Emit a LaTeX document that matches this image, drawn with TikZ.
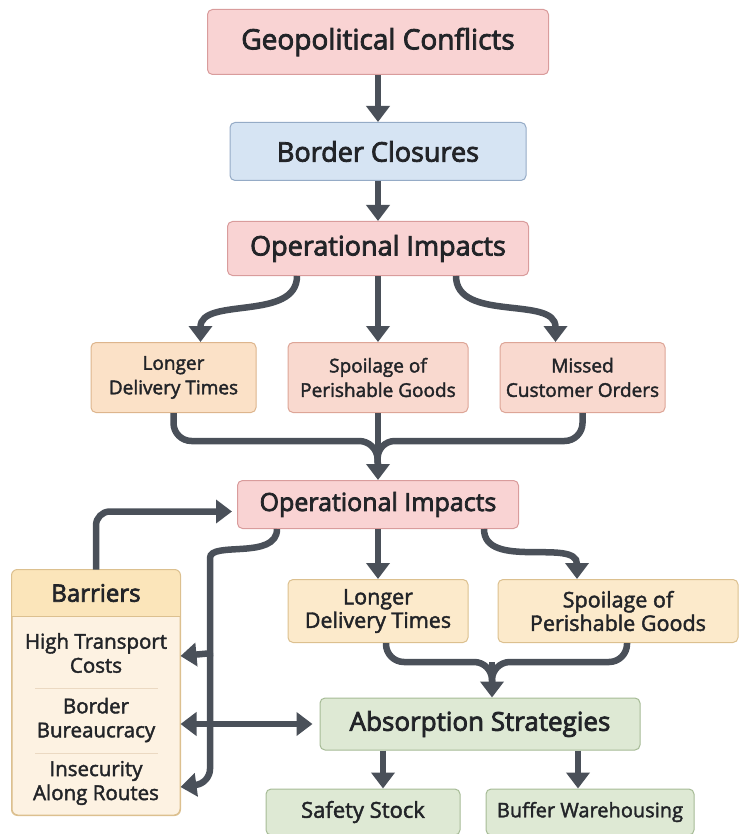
\documentclass[tikz,border=0pt]{standalone}
\usepackage{fontspec}
\setmainfont{Open Sans}[FakeBold=2]
\newfontfamily\headfont{Open Sans}[FakeBold=3]
\usepackage{xcolor}
\usetikzlibrary{arrows.meta,positioning}

\definecolor{linegray}{HTML}{4A5059}
\definecolor{textgray}{HTML}{222428}
\definecolor{pinkfill}{HTML}{F9D3D3}
\definecolor{pinkline}{HTML}{D99C9C}
\definecolor{bluefill}{HTML}{D6E4F3}
\definecolor{blueline}{HTML}{95ABC6}
\definecolor{orangefill}{HTML}{FBE1C7}
\definecolor{orangeline}{HTML}{DDB58D}
\definecolor{peachfill}{HTML}{F9D9CF}
\definecolor{peachline}{HTML}{DDA597}
\definecolor{yellowfill}{HTML}{FCEACB}
\definecolor{yellowline}{HTML}{DCC08F}
\definecolor{greenfill}{HTML}{DEE9D4}
\definecolor{greenline}{HTML}{A6BB96}
\definecolor{barhead}{HTML}{FBE5BA}
\definecolor{barbody}{HTML}{FDF2E2}
\definecolor{barsep}{HTML}{EBD9C2}

\begin{document}
\begin{tikzpicture}[x=1pt, y=1pt,
  box/.style={draw, rounded corners=5pt, line width=1pt, inner sep=2pt, text=textgray,
              align=center, font=\fontsize{19}{24.5}\selectfont},
  head/.style={box, font=\headfont\fontsize{27}{30}\selectfont},
  pinkbox/.style={fill=pinkfill, draw=pinkline},
  bluebox/.style={fill=bluefill, draw=blueline},
  orangebox/.style={fill=orangefill, draw=orangeline},
  peachbox/.style={fill=peachfill, draw=peachline},
  yellowbox/.style={fill=yellowfill, draw=yellowline},
  greenbox/.style={fill=greenfill, draw=greenline},
  line/.style={draw=linegray, line width=6.5pt},
  arr/.style={line, -{Triangle[width=23pt,length=16pt]}},
  dbl/.style={line, {Triangle[width=23pt,length=16pt]}-{Triangle[width=23pt,length=16pt]}},
  item/.style={align=center, text=textgray, font=\fontsize{20.5}{24}\selectfont}]
  \useasboundingbox (0,0) rectangle (739,-834);
  % top chain
  \node[head, pinkbox, minimum width=341pt, minimum height=65pt,
        font=\headfont\fontsize{28}{31}\selectfont] (geo) at (378,-42) {Geopolitical Conflicts};
  \node[head, bluebox, minimum width=296pt, minimum height=58pt, below=47pt of geo] (clos) {Border Closures};
  \node[head, pinkbox, minimum width=301pt, minimum height=54pt, below=40pt of clos] (opsa) {Operational Impacts};
  \node[box, peachbox, minimum width=180pt, minimum height=70pt, below=66pt of opsa] (spoila) {Spoilage of\\Perishable Goods};
  \node[box, orangebox, minimum width=165pt, minimum height=70pt, left=31pt of spoila] (longa) {Longer\\Delivery Times};
  \node[box, peachbox, minimum width=165pt, minimum height=70pt, right=31pt of spoila] (missa) {Missed\\Customer Orders};
  % second stage
  \node[head, pinkbox, minimum width=281pt, minimum height=48pt, below=67pt of spoila,
        font=\headfont\fontsize{25}{28}\selectfont] (opsb) {Operational Impacts};
  \node[box, yellowbox, minimum width=180pt, minimum height=63pt, below=50pt of opsb,
        font=\fontsize{21.5}{23.5}\selectfont] (longb) {Longer\\Delivery Times};
  \node[box, yellowbox, minimum width=240pt, minimum height=63pt, right=29pt of longb,
        font=\fontsize{21.5}{23.5}\selectfont] (spoilb) {Spoilage of\\Perishable Goods};
  \node[head, greenbox, minimum width=320pt, minimum height=52pt,
        font=\headfont\fontsize{26}{29}\selectfont] (absb) at (480,-724) {Absorption Strategies};
  \node[box, greenbox, minimum width=194pt, minimum height=46pt, font=\fontsize{22}{25}\selectfont] (safe) at (363,-812) {Safety Stock};
  \node[box, greenbox, minimum width=208pt, minimum height=46pt, font=\fontsize{20}{23}\selectfont] (buff) at (590,-812) {Buffer Warehousing};
  % barriers panel
  \node[draw=yellowline, fill=barbody, rounded corners=6pt, line width=1pt,
        minimum width=168pt, minimum height=245pt] (bar) at (96,-692.5) {};
  \begin{scope}
    \clip[rounded corners=6pt] (bar.south west) rectangle (bar.north east);
    \fill[barhead] (bar.north west) rectangle ([yshift=-47pt]bar.north east);
  \end{scope}
  \draw[yellowline, line width=0.8pt] ([yshift=-47pt]bar.north west) -- ([yshift=-47pt]bar.north east);
  \draw[draw=yellowline, rounded corners=6pt, line width=1pt] (bar.south west) rectangle (bar.north east);
  \node[item, font=\headfont\fontsize{24}{27}\selectfont] (bart) at (96,-593) {Barriers};
  \node[item] (bhigh) at (96,-653) {High Transport\\Costs};
  \node[item] (bbur) at (96,-720) {Border\\Bureaucracy};
  \node[item] (binse) at (96,-783) {Insecurity\\Along Routes};
  \draw[barsep, line width=0.8pt] (35,-688) -- (158,-688);
  \draw[barsep, line width=0.8pt] (35,-753) -- (158,-753);
  % junction points
  \coordinate (mergea) at (377,-441);
  \coordinate (mergeb) at (492,-662);
  \coordinate (trunk) at (210,-572);
  % arrows of the top chain
  \draw[arr] (geo) -- (clos);
  \draw[arr] (clos) -- (opsa);
  \draw[arr] ([xshift=-81pt]opsa.south) to[out=-90, in=90] ([xshift=27pt]longa.north);
  \draw[arr] (opsa) -- (spoila);
  \draw[arr] ([xshift=78pt]opsa.south) to[out=-90, in=90] ([xshift=-27pt]missa.north);
  \draw[line, rounded corners=18pt] (longa.south) |- (mergea) -- ([yshift=10pt]opsb.north);
  \draw[line, rounded corners=18pt] (missa.south) |- (mergea) -- ([yshift=10pt]opsb.north);
  \draw[arr] (spoila) -- (opsb);
  % arrows of the second stage
  \draw[arr] (opsb) -- (longb);
  \draw[arr] ([xshift=106pt]opsb.south) to[out=-90, in=90] ([xshift=-41pt]spoilb.north);
  \draw[line, rounded corners=18pt] ([xshift=8pt]longb.south) |- (mergeb) -- ([yshift=10pt]absb.north -| mergeb);
  \draw[line, rounded corners=18pt] ([xshift=9pt]spoilb.south) |- (mergeb) -- ([yshift=10pt]absb.north -| mergeb);
  \draw[arr] (mergeb) -- (absb.north -| mergeb);
  \draw[arr] (absb.south -| 383,0) -- (safe.north -| 383,0);
  \draw[arr] (absb.south -| 578,0) -- (buff.north -| 578,0);
  % barriers links
  \draw[arr, rounded corners=14pt, shorten >=5pt] (bar.north) |- ([yshift=-7pt]opsb.west);
  \draw[arr, rounded corners=14pt] ([xshift=-101pt]opsb.south) to[out=-90, in=90] (trunk)
        -- (trunk |- binse) -- ([yshift=-4pt]binse.east -| bar.east);
  \draw[arr] ([xshift=3pt]trunk |- bhigh) -- ([yshift=-3pt]bhigh.east -| bar.east);
  \draw[dbl, shorten >=7pt] (bar.east |- absb.west) -- (absb.west);
\end{tikzpicture}
\end{document}
